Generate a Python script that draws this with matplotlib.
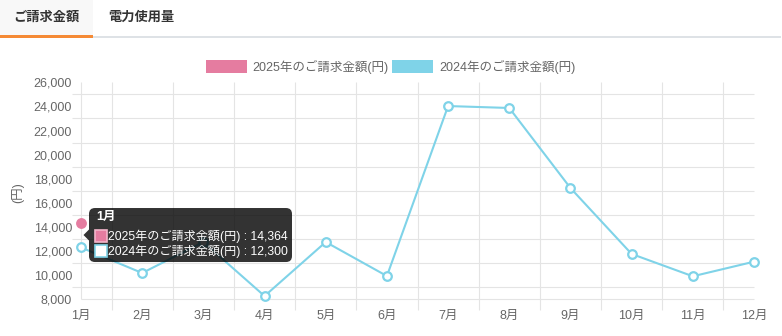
import numpy as np
import matplotlib.pyplot as plt
from matplotlib.patches import FancyBboxPatch, Rectangle, Polygon
from matplotlib.ticker import FuncFormatter

months = ['1月', '2月', '3月', '4月', '5月', '6月',
          '7月', '8月', '9月', '10月', '11月', '12月']
bill_2025 = [14364] + [np.nan] * 11
bill_2024 = [12300, 10180, 12750, 8270, 12750, 9930,
             24030, 23870, 17230, 11760, 9910, 11120]
series_names = ['2025年のご請求金額(円)', '2024年のご請求金額(円)']
tabs = ['ご請求金額', '電力使用量']

PINK = '#e57ca0'
BLUE = '#7fd3e8'
GRID = '#e4e4e4'
TEXT = '#666666'

plt.rcParams['font.family'] = ['Liberation Sans', 'Noto Sans CJK JP']

W, H = 782, 336
fig = plt.figure(figsize=(W / 100, H / 100), dpi=100)
fig.patch.set_facecolor('white')

# plot area in pixels: x 81..754, y 82..299 (from top)
ax = fig.add_axes([81 / W, (H - 299.3) / H, 673 / W, 217 / H])
x = np.arange(len(months))
ax.set_xlim(0, len(months) - 1)
ax.set_ylim(8000, 26000)
for s in ax.spines.values():
    s.set_visible(False)

xpu = 673 / 11          # px per category
ypu = 217 / 18000       # px per yen

# grid: horizontal lines between the labels, vertical lines between categories
ygrid = np.arange(9000, 26000, 2000)
ax.hlines(ygrid, -9 / xpu, 11, color=GRID, lw=0.8, zorder=0, clip_on=False)
ax.hlines(8000, 0, 11, color=GRID, lw=0.8, zorder=0, clip_on=False)
ax.vlines(0, 8000, 26000, color=GRID, lw=0.8, zorder=0, clip_on=False)
ax.vlines(x[:-1] + 0.5, 8000 - 11 / ypu, 26000, color=GRID, lw=0.8,
          zorder=0, clip_on=False)

ax.plot(x, bill_2024, color=BLUE, lw=1.5, marker='o', ms=6.2, mew=1.6,
        mfc='white', mec=BLUE, zorder=3, clip_on=False)
ax.plot(x, bill_2025, color=PINK, lw=1.5, marker='o', ms=7.8, mew=0,
        mfc=PINK, zorder=3, clip_on=False)

ax.set_xticks(x, months)
ax.set_yticks(np.arange(8000, 26001, 2000))
ax.yaxis.set_major_formatter(FuncFormatter(lambda v, p: f'{int(v):,}'))
ax.tick_params(length=0, labelsize=9, labelcolor=TEXT)
ax.tick_params(axis='x', pad=8)
ax.tick_params(axis='y', pad=6.5)
ax.set_ylabel('(円)', fontsize=9, color=TEXT)
ax.yaxis.set_label_coords(-0.085, 0.49)

# overlay in pixel coordinates (y down) for tabs, legend and tooltip
ov = fig.add_axes([0, 0, 1, 1], zorder=5)
ov.set_xlim(0, W)
ov.set_ylim(H, 0)
ov.axis('off')
ov.patch.set_alpha(0)

ov.add_patch(Rectangle((0, 0), 93, 36, fc='#f8f8f8', ec='none'))
ov.add_patch(Rectangle((93, 36.3), W - 94, 1.8, fc='#dee2e6', ec='none'))
ov.add_patch(Rectangle((0, 35.3), 93, 2.6, fc='#f58a35', ec='none'))
ov.text(46, 18, tabs[0], ha='center', va='center', fontsize=9.5,
        fontweight='bold', color='#333333')
ov.text(141, 18, tabs[1], ha='center', va='center', fontsize=9.5,
        fontweight='bold', color='#333333')

# legend
for (bx, tx), name, col in zip([(206, 252), (392, 439)], series_names, [PINK, BLUE]):
    ov.add_patch(Rectangle((bx, 60), 41, 13, fc=col, ec='none'))
    ov.text(tx, 66.5, name, ha='left', va='center', fontsize=9, color=TEXT)

# tooltip anchored on the January points
p25 = ax.transData.transform((0, bill_2025[0]))
p24 = ax.transData.transform((0, bill_2024[0]))
px = p25[0]
cy = H - (p25[1] + p24[1]) / 2
left = px + 8
box = FancyBboxPatch((left, cy - 27), 203, 54,
                     boxstyle='round,pad=0,rounding_size=6',
                     fc='black', ec='none', alpha=0.8)
ov.add_patch(box)
ov.add_patch(Polygon([(px + 2.5, cy), (left, cy - 5.5), (left, cy + 5.5)],
                     closed=True, fc='black', ec='none', alpha=0.8))
ov.text(left + 7, cy - 18, months[0], ha='left', va='center', fontsize=9,
        fontweight='bold', color='white')
rows = [(bill_2025[0], PINK, '#f3b5ca', 1), (bill_2024[0], 'white', BLUE, 16)]
for (val, fc, ec, dy), name in zip(rows, series_names):
    ov.add_patch(Rectangle((left + 6, cy + dy - 6), 12, 12, fc=fc, ec=ec, lw=1.2))
    ov.text(left + 19, cy + dy, f'{name} : {val:,}', ha='left', va='center',
            fontsize=8.7, color='white')

fig.savefig('out.png', dpi=100)
